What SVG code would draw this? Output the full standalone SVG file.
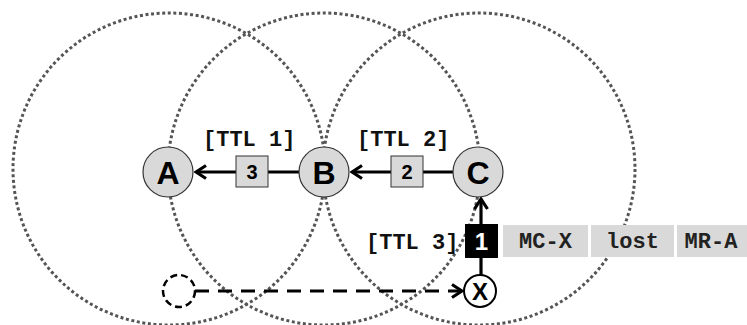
<svg xmlns="http://www.w3.org/2000/svg" width="747" height="325" viewBox="0 0 747 325">
<defs>
<style>
.range{fill:none;stroke:#555;stroke-width:3;stroke-dasharray:3 2.6}
.node{fill:#d9d9d9;stroke:#333;stroke-width:1.2}
.lbl{font-family:'Liberation Sans',Arial,sans-serif;font-weight:bold;font-size:32px;fill:#000;text-anchor:middle}
.pkt{fill:#d9d9d9;stroke:#333;stroke-width:1}
.pn{font-family:'Liberation Sans',Arial,sans-serif;font-weight:bold;font-size:20px;fill:#000;text-anchor:middle}
.ttl{font-family:'Courier New','Liberation Mono',monospace;font-weight:bold;font-size:22px;fill:#111}
.hdr{fill:#d9d9d9}
.ht{font-family:'Courier New','Liberation Mono',monospace;font-weight:bold;font-size:22px;fill:#222;text-anchor:middle}
.conn{fill:none;stroke:#000;stroke-width:3.2}
</style>
<marker id="arr" viewBox="0 0 14 16" refX="12" refY="8" markerWidth="14" markerHeight="16" markerUnits="userSpaceOnUse" orient="auto">
<path d="M2,1.5 L12,8 L2,14.5" fill="none" stroke="#000" stroke-width="3.2"/>
</marker>
</defs>
<rect width="747" height="325" fill="#fff"/>
<g id="ranges">
<circle class="range" cx="169" cy="169" r="156"/>
<circle class="range" cx="324" cy="169" r="156"/>
<circle class="range" cx="479" cy="169" r="156"/>
</g>
<g id="connectors">
<line class="conn" x1="453" y1="172" x2="352" y2="172" marker-end="url(#arr)"/>
<line class="conn" x1="299" y1="172" x2="196" y2="172" marker-end="url(#arr)"/>
<line class="conn" x1="481" y1="275" x2="481" y2="199" marker-end="url(#arr)"/>
<line class="conn" x1="195" y1="291" x2="462" y2="291" stroke-dasharray="14 9" marker-end="url(#arr)"/>
</g>
<g id="pkt3"><rect class="pkt" x="236" y="156" width="32" height="31"/><text class="pn" x="252" y="179">3</text></g>
<g id="pkt2"><rect class="pkt" x="391" y="156" width="32" height="31"/><text class="pn" x="407" y="179">2</text></g>
<g id="nodeA"><circle class="node" cx="168" cy="172" r="25"/><text class="lbl" x="168" y="184">A</text></g>
<g id="nodeB"><circle class="node" cx="324" cy="172" r="25"/><text class="lbl" x="324" y="184">B</text></g>
<g id="nodeC"><circle class="node" cx="478" cy="172" r="25"/><text class="lbl" x="478" y="184">C</text></g>
<g id="nodeOld"><circle cx="179" cy="291" r="16" fill="#fff" stroke="#000" stroke-width="2.5" stroke-dasharray="7 4"/></g>
<g id="nodeX"><circle cx="480" cy="291" r="16" fill="#fff" stroke="#000" stroke-width="2"/><text x="480" y="300" font-family="'Liberation Sans',Arial,sans-serif" font-weight="bold" font-size="24" text-anchor="middle">X</text></g>
<g id="labels">
<text class="ttl" x="203" y="146">[TTL 1]</text>
<text class="ttl" x="357" y="146">[TTL 2]</text>
<text class="ttl" x="366" y="249">[TTL 3]</text>
</g>
<g id="header">
<rect x="465" y="224" width="33" height="34" fill="#000"/>
<text x="481.5" y="250" font-family="'Liberation Sans',Arial,sans-serif" font-weight="bold" font-size="24" fill="#fff" text-anchor="middle">1</text>
<rect class="hdr" x="503" y="225" width="85" height="32"/><text class="ht" x="545.5" y="248">MC-X</text>
<rect class="hdr" x="591" y="225" width="83" height="32"/><text class="ht" x="632.5" y="248">lost</text>
<rect class="hdr" x="677" y="225" width="70" height="32"/><text class="ht" x="711" y="248">MR-A</text>
</g>
</svg>
